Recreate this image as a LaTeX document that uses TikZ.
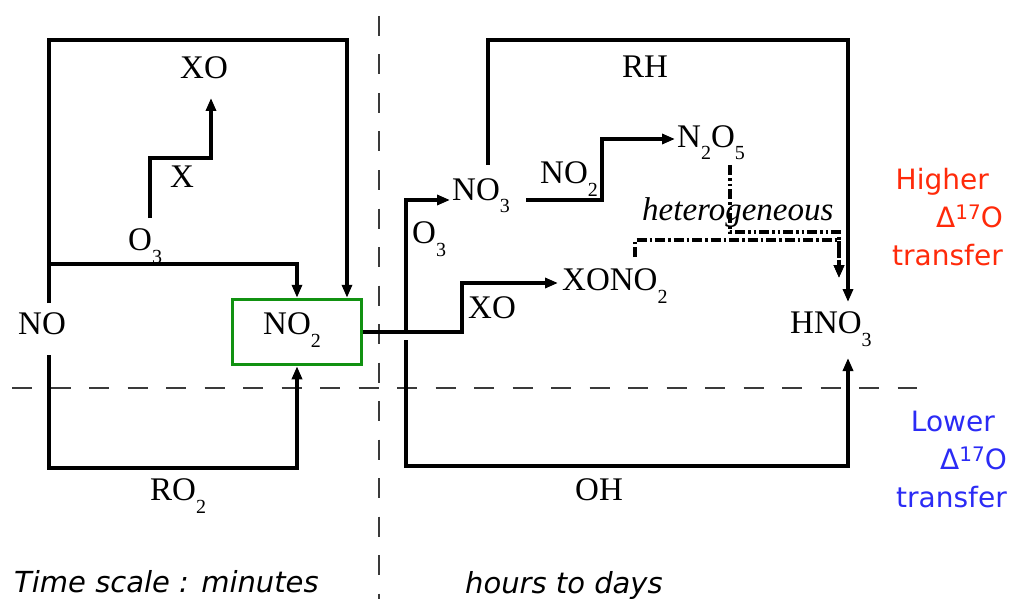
\documentclass[tikz,border=0pt]{standalone}
\usepackage{fontspec}
\setmainfont{Liberation Serif}
\newfontfamily\labfont{DejaVu Sans}
\usetikzlibrary{arrows.meta}
\definecolor{Higher}{HTML}{FF2A0A}
\definecolor{Lower}{HTML}{2B2BF5}
\definecolor{Box}{HTML}{119211}
\definecolor{Guide}{HTML}{3A3A3A}
\newcommand\chsub[1]{\raisebox{-13pt}{\fontsize{20}{20}\selectfont #1}}
\newcommand\dsev{Δ\raisebox{8pt}{\fontsize{20}{20}\selectfont 17}O}

\begin{document}
\begin{tikzpicture}[x=1pt,y=-1pt,font=\fontsize{33}{33}\selectfont,
    chem/.style={inner sep=0pt,anchor=base west},
    flow/.style={line width=3.8pt,-{Triangle[length=13pt,width=10pt]}},
    hetA/.style={flow,dash pattern=on 10pt off 3pt on 2.5pt off 3pt on 2.5pt off 3pt},
    hetB/.style={flow,dash pattern=on 10pt off 3pt on 2.5pt off 3pt},
    guide/.style={Guide,line width=1.8pt,dash pattern=on 20pt off 18.5pt},
    side/.style={inner sep=0pt,anchor=north east,align=right,font=\labfont\fontsize{28}{38}\selectfont},
    scale label/.style={chem,font=\labfont\itshape\fontsize{29}{29}\selectfont}]
  \useasboundingbox (0,0) rectangle (1012,599);
  \draw[guide] (379,16) -- (379,599);
  \draw[guide] (12,388) -- (917,388);
  % fast cycle
  \node[chem] (no) at (18,334) {NO};
  \node[draw=Box,line width=3.5pt,minimum width=129pt,minimum height=65pt,inner sep=0pt] (box) at (297,332) {};
  \node[chem] (no2) at (263,334) {NO\chsub{2}};
  \node[chem] (o3l) at (128,250) {O\chsub{3}};
  \node[chem] (xl) at (170,187) {X};
  \node[chem] (xo) at (180,79) {XO};
  \node[chem] (ro2) at (150,500) {RO\chsub{2}};
  \coordinate (nsplit) at (49,264);
  \draw[flow] ([shift={(31,-31)}]no.base west) |- (347,40) -- (347,0 |- box.north);
  \draw[flow] (nsplit) -| (box.north);
  \draw[flow] ([shift={(22,-32)}]o3l.base west) |- (211,158) -- ([shift={(31,19)}]xo.base west);
  \draw[flow] ([shift={(31,21)}]no.base west) |- (297,468) -- (box.south);
  % slow sinks
  \node[chem] (o3r) at (412,243) {O\chsub{3}};
  \node[chem] (no3) at (452,200) {NO\chsub{3}};
  \node[chem] (xor) at (468,318) {XO};
  \node[chem] (xono2) at (562,290) {XONO\chsub{2}};
  \node[chem] (no2r) at (540,183) {NO\chsub{2}};
  \node[chem] (n2o5) at (677,147) {N\chsub{2}O\chsub{5}};
  \node[chem] (rh) at (622,78) {RH};
  \node[chem,font=\fontsize{33}{33}\selectfont\itshape] (het) at (642,220) {heterogeneous};
  \node[chem] (hno3) at (790,333) {HNO\chsub{3}};
  \node[chem] (oh) at (575,500) {OH};
  \coordinate (fork) at (406,332);
  \draw[flow] (box.east) -- (462,332) |- ([shift={(-4,-7)}]xono2.base west);
  \draw[flow] (fork) |- ([shift={(-2,0)}]no3.base west);
  \draw[flow] ([yshift=-8pt]fork) |- (848,466) -- ([shift={(58,25)}]hno3.base west);
  \draw[flow] ([shift={(36,-35)}]no3.base west) |- (848,40) -- ([shift={(58,-31)}]hno3.base west);
  \draw[flow] ([xshift=16pt]no3.base east) -- (602,200) |- ([shift={(-2,-8)}]n2o5.base west);
  \draw[hetA] ([shift={(53,18)}]n2o5.base west) |- (839,232) -- ([shift={(49,-55)}]hno3.base west);
  \draw[hetB] ([shift={(73,-33)}]xono2.base west) |- (839,240) -- ([shift={(49,-55)}]hno3.base west);
  % legend
  \node[side,text=Higher] (high) at (1003,168) {Higher\hspace*{14pt}\\\dsev\\transfer};
  \node[side,text=Lower] (low) at (1007,411) {Lower\hspace*{12pt}\\\dsev\\transfer};
  \node[scale label] (tmin) at (14,592) {Time scale : minutes};
  \node[scale label] (tday) at (465,593) {hours to days};
\end{tikzpicture}
\end{document}
